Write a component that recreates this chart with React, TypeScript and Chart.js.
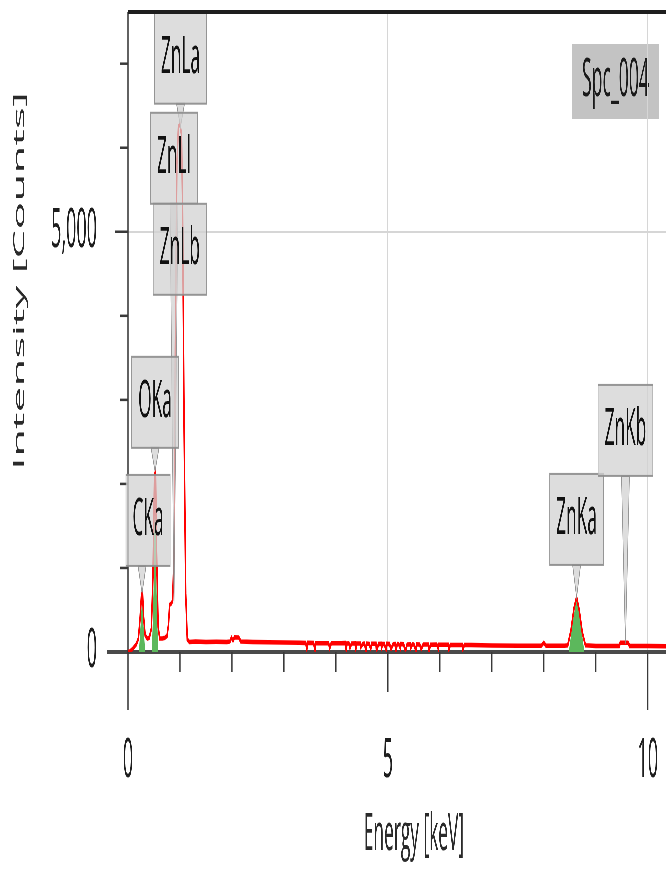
import React, { useEffect, useRef } from 'react';
import { Chart, registerables } from 'chart.js';

Chart.register(...registerables);

// ---------------- data ----------------
const energyKeV = [
  0.0, 0.04, 0.08, 0.12, 0.16, 0.2, 0.23, 0.26, 0.28, 0.3, 0.33, 0.37, 0.41, 0.45, 0.48, 0.51, 0.53, 0.55, 0.58,
  0.61, 0.66, 0.71, 0.75, 0.78, 0.8, 0.84, 0.86, 0.89, 0.91, 0.94, 0.97, 1.0, 1.03, 1.05, 1.08, 1.11, 1.14, 1.18,
  1.3, 1.5, 1.7, 1.9, 1.96, 1.99, 2.02, 2.05, 2.13, 2.17, 2.4, 2.7, 3.0, 3.3,
  3.42, 3.44, 3.46, 3.57, 3.6, 3.61, 3.86, 3.88, 3.91, 4.1, 4.18, 4.2, 4.21, 4.25, 4.27, 4.3,
  4.37, 4.38, 4.4, 4.47, 4.48, 4.52, 4.55, 4.58, 4.59, 4.64, 4.67, 4.69, 4.77, 4.78, 4.82,
  4.87, 4.88, 4.9, 4.93, 4.97, 4.98, 5.03, 5.06, 5.1, 5.14, 5.15, 5.18, 5.21, 5.24, 5.25,
  5.3, 5.34, 5.37, 5.43, 5.44, 5.47, 5.5, 5.54, 5.55, 5.61, 5.64, 5.68, 5.78, 5.79, 5.82,
  5.94, 5.97, 5.98, 6.16, 6.17, 6.2, 6.43, 6.44, 6.47, 6.6,
  7.0, 7.5, 7.95, 8.0, 8.04, 8.4, 8.46, 8.52, 8.58, 8.63, 8.68, 8.74, 8.8,
  9.0, 9.4, 9.45, 9.47, 9.62, 9.65, 10.0, 10.35,
];
const intensityCounts = [
  0, 10, 30, 60, 90, 160, 380, 690, 700, 420, 200, 160, 170, 280, 900, 2100, 2150, 1200, 300,
  160, 160, 170, 190, 330, 560, 580, 620, 1300, 3600, 5800, 6250, 6280, 6150, 5300, 2600, 700, 150, 120,
  125, 120, 122, 120, 125, 170, 135, 175, 172, 125, 118, 115, 112, 110,
  108, 35, 110, 106, 20, 104, 105, 45, 103, 104, 106, 15, 102, 104, 50, 101,
  104, 25, 100, 102, 60, 99, 100, 10, 101, 97, 40, 99, 98, 15, 96,
  99, 55, 95, 96, 20, 97, 95, 35, 93, 95, 5, 94, 92, 45, 95,
  93, 15, 90, 92, 50, 91, 89, 20, 92, 90, 35, 88, 89, 15, 87,
  88, 40, 86, 85, 25, 84, 84, 30, 83, 82,
  78, 75, 74, 110, 74, 74, 80, 250, 520, 650, 500, 230, 80,
  72, 70, 72, 110, 110, 72, 70, 68,
];

const cPeakEnergy = [0.21, 0.24, 0.27, 0.3, 0.33];
const cPeakCounts = [0, 300, 640, 300, 0];
const oPeakEnergy = [0.46, 0.49, 0.52, 0.55, 0.58];
const oPeakCounts = [0, 700, 2100, 700, 0];
const znKaPeakEnergy = [8.48, 8.55, 8.63, 8.71, 8.78];
const znKaPeakCounts = [0, 330, 640, 330, 0];

const xTickValues = [0, 5, 10];
const xMinorTickValues = [1, 2, 3, 4, 6, 7, 8, 9];
const yTickValues = [0, 5000];
const yMinorTickValues = [1000, 2000, 3000, 4000, 6000, 7000];

const peakNames = ['CKa', 'OKa', 'ZnLl', 'ZnLa', 'ZnLb', 'ZnKa', 'ZnKb'];
const peakEnergies = [0.27, 0.52, 0.885, 1.01, 1.035, 8.63, 9.57];
const peakTopCounts = [700, 2150, 560, 6250, 6150, 650, 100];
const labelBoxBottomCounts = [1024, 2429, 5333, 6524, 4250, 1036, 2095];
const labelShiftPx = [6, 0, 0, 0, -2, 0, 0];

const spectrumName = 'Spc_004';
const xTitle = 'Energy [keV]';
const xTitleCenterKeV = 5.5;
const yTitle = 'Intensity [Counts]';

// ---------------- layout / style ----------------
const SX = 3; // horizontal stretch of the drawing canvas (compressed back by CSS)
const CANVAS_W = 666 * SX;
const CANVAS_H = 869;
const FONT = "'Open Sans', 'Noto Sans', sans-serif";
const RED = '#ff0000';
const GREEN = '#5cb85c';

const pts = (xs: number[], ys: number[]) => xs.map((x, i) => ({ x, y: ys[i] }));

const zeroPad = (s: any) => {
  s.paddingLeft = 0;
  s.paddingRight = 0;
  s.paddingTop = 0;
  s.paddingBottom = 0;
};

const spcPlugin = {
  id: 'spcBox',
  beforeDraw(chart: any) {
    const { ctx } = chart;
    ctx.save();
    ctx.font = `53px ${FONT}`;
    const w = ctx.measureText(spectrumName).width + 2 * 10 * SX;
    const right = chart.width - 7 * SX;
    const top = chart.chartArea.top + 32;
    const h = 75;
    ctx.fillStyle = 'rgba(180,180,180,0.8)';
    ctx.fillRect(right - w, top, w, h);
    ctx.fillStyle = '#1a1a1a';
    ctx.textAlign = 'center';
    ctx.textBaseline = 'middle';
    ctx.fillText(spectrumName, right - w / 2, top + h / 2 - 1);
    ctx.restore();
  },
};

const axesPlugin = {
  id: 'edsAxes',
  beforeDatasetsDraw(chart: any) {
    const { ctx, chartArea: a } = chart;
    const xs = chart.scales.x;
    const ys = chart.scales.y;
    ctx.save();
    ctx.lineCap = 'butt';
    // baseline
    ctx.strokeStyle = '#4a4a4a';
    ctx.lineWidth = 4;
    ctx.beginPath();
    ctx.moveTo(a.left - 21 * SX, a.bottom);
    ctx.lineTo(a.right, a.bottom);
    ctx.stroke();
    // y axis line (continues as the long tick at 0)
    ctx.strokeStyle = '#3a3a3a';
    ctx.lineWidth = 1.2 * SX;
    ctx.beginPath();
    ctx.moveTo(a.left, a.top);
    ctx.lineTo(a.left, a.bottom + 58);
    ctx.stroke();
    // x ticks
    for (const v of [...xMinorTickValues, ...xTickValues]) {
      if (v === 0) continue;
      const px = xs.getPixelForValue(v);
      const len = v === 10 ? 58 : v === 5 ? 40 : 20;
      ctx.beginPath();
      ctx.moveTo(px, a.bottom);
      ctx.lineTo(px, a.bottom + len);
      ctx.stroke();
    }
    // y ticks
    ctx.lineWidth = 2.5;
    for (const v of [...yMinorTickValues, ...yTickValues]) {
      if (v === 0) continue;
      const py = ys.getPixelForValue(v);
      const len = v === 5000 ? 13 * SX : 8 * SX;
      ctx.beginPath();
      ctx.moveTo(a.left - len, py);
      ctx.lineTo(a.left, py);
      ctx.stroke();
    }
    ctx.restore();
  },
  afterDraw(chart: any) {
    const { ctx, chartArea: a } = chart;
    const xs = chart.scales.x;
    ctx.save();
    // top frame line
    ctx.strokeStyle = '#1e1e1e';
    ctx.lineWidth = 4;
    ctx.beginPath();
    ctx.moveTo(a.left, a.top);
    ctx.lineTo(a.right, a.top);
    ctx.stroke();
    // x title
    ctx.font = `52px ${FONT}`;
    ctx.fillStyle = '#2a2a2a';
    ctx.textAlign = 'center';
    ctx.textBaseline = 'middle';
    ctx.fillText(xTitle, xs.getPixelForValue(xTitleCenterKeV), 835);
    // y title
    ctx.translate(20 * SX, 281);
    ctx.rotate(-Math.PI / 2);
    ctx.font = `46px ${FONT}`;
    ctx.fillText(yTitle, 0, 0);
    ctx.restore();
  },
};

const BOX_H = 91;
const BOX_PAD = 6.5 * SX;
const POINTER_HALF = 4 * SX;

const labelPlugin = {
  id: 'peakLabels',
  afterDatasetsDraw(chart: any) {
    const { ctx } = chart;
    const xs = chart.scales.x;
    const ys = chart.scales.y;
    ctx.save();
    ctx.font = `52px ${FONT}`;
    const boxes = peakNames.map((name, i) => {
      const px = xs.getPixelForValue(peakEnergies[i]);
      const bottom = ys.getPixelForValue(labelBoxBottomCounts[i]);
      const w = ctx.measureText(name).width + 2 * BOX_PAD;
      return {
        name,
        px,
        bottom,
        top: bottom - BOX_H,
        cx: px + labelShiftPx[i] * SX,
        w,
        tip: ys.getPixelForValue(peakTopCounts[i]),
      };
    });
    ctx.fillStyle = 'rgba(210,210,210,0.75)';
    ctx.strokeStyle = 'rgba(140,140,140,0.9)';
    ctx.lineWidth = 2;
    for (const b of boxes) {
      if (b.tip > b.bottom + 2) {
        ctx.beginPath();
        ctx.moveTo(b.px - POINTER_HALF, b.bottom);
        ctx.lineTo(b.px, b.tip);
        ctx.lineTo(b.px + POINTER_HALF, b.bottom);
        ctx.closePath();
        ctx.fill();
        ctx.stroke();
      }
    }
    for (const b of boxes) {
      ctx.fillRect(b.cx - b.w / 2, b.top, b.w, BOX_H);
      ctx.strokeRect(b.cx - b.w / 2, b.top, b.w, BOX_H);
    }
    ctx.fillStyle = '#111111';
    ctx.textAlign = 'center';
    ctx.textBaseline = 'middle';
    for (const b of boxes) {
      ctx.fillText(b.name, b.cx, b.top + BOX_H / 2);
    }
    ctx.restore();
  },
};

export default function App() {
  const ref = useRef<HTMLCanvasElement>(null);
  useEffect(() => {
    document.body.style.margin = '0';
    const canvas = ref.current;
    if (!canvas) return;
    const chart = new Chart(canvas, {
      type: 'line',
      data: {
        datasets: [
          {
            label: 'spectrum',
            data: pts(energyKeV, intensityCounts),
            borderColor: RED,
            borderWidth: 4.5,
            pointRadius: 0,
            fill: false,
            tension: 0,
          },
          {
            label: 'C',
            data: pts(cPeakEnergy, cPeakCounts),
            backgroundColor: GREEN,
            borderWidth: 0,
            pointRadius: 0,
            fill: 'origin',
          },
          {
            label: 'O',
            data: pts(oPeakEnergy, oPeakCounts),
            backgroundColor: GREEN,
            borderWidth: 0,
            pointRadius: 0,
            fill: 'origin',
          },
          {
            label: 'ZnKa',
            data: pts(znKaPeakEnergy, znKaPeakCounts),
            backgroundColor: GREEN,
            borderWidth: 0,
            pointRadius: 0,
            fill: 'origin',
          },
        ],
      } as any,
      options: {
        responsive: false,
        animation: false,
        events: [],
        layout: { padding: { left: 0, top: 12, right: 0, bottom: 0 } },
        font: { family: FONT },
        plugins: {
          legend: { display: false },
          tooltip: { enabled: false },
        },
        scales: {
          x: {
            type: 'linear',
            min: 0,
            max: 10.35,
            afterBuildTicks: (s: any) => {
              s.ticks = xTickValues.map((v) => ({ value: v }));
            },
            afterFit: (s: any) => {
              s.height = 217;
              zeroPad(s);
            },
            grid: {
              drawTicks: false,
              lineWidth: 3,
              color: (c: any) =>
                c.tick && (c.tick.value === 5 || c.tick.value === 10) ? '#d6d6d6' : 'rgba(0,0,0,0)',
            },
            border: { display: false },
            ticks: {
              padding: 77,
              autoSkip: false,
              maxRotation: 0,
              color: '#1e1e1e',
              font: { family: FONT, size: 54 },
              callback: (v: any) => String(v),
            },
            title: { display: false },
          },
          y: {
            type: 'linear',
            min: 0,
            max: 7615,
            afterBuildTicks: (s: any) => {
              s.ticks = yTickValues.map((v) => ({ value: v }));
            },
            afterFit: (s: any) => {
              s.width = 384;
              zeroPad(s);
            },
            grid: {
              drawTicks: false,
              lineWidth: 2,
              color: (c: any) => (c.tick && c.tick.value === 5000 ? '#d6d6d6' : 'rgba(0,0,0,0)'),
            },
            border: { display: false },
            ticks: {
              padding: 93,
              autoSkip: false,
              color: '#1e1e1e',
              font: { family: FONT, size: 54 },
              callback: (v: any) => Number(v).toLocaleString('en-US'),
            },
            title: { display: false },
          },
        },
      } as any,
      plugins: [spcPlugin, axesPlugin, labelPlugin],
    });
    return () => chart.destroy();
  }, []);

  return (
    <div style={{ width: 666, height: CANVAS_H, overflow: 'hidden', position: 'relative', background: '#fff' }}>
      <canvas
        ref={ref}
        width={CANVAS_W}
        height={CANVAS_H}
        style={{
          width: CANVAS_W,
          height: CANVAS_H,
          display: 'block',
          transform: `scaleX(${1 / SX})`,
          transformOrigin: '0 0',
        }}
      />
    </div>
  );
}
